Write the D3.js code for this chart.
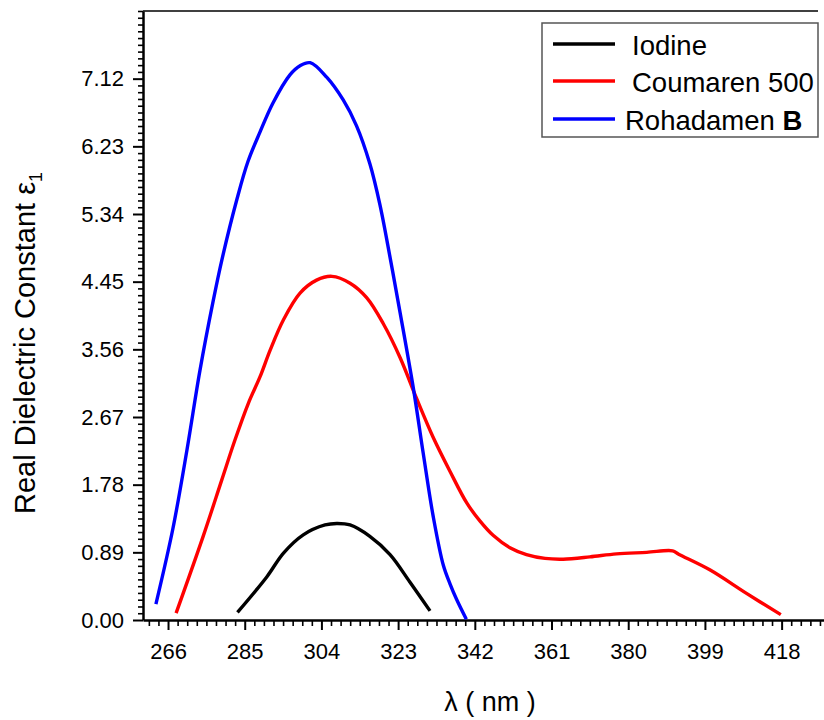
<!DOCTYPE html>
<html>
<head>
<meta charset="UTF-8">
<title>Real Dielectric Constant</title>
<style>
  body { margin: 0; background: #fff; }
  svg { display: block; font-family: "Liberation Sans", Arial, sans-serif; }
  .axis path, .axis line { stroke: #000; }
  .axis text { font-size: 22px; fill: #000; }
</style>
</head>
<body>
<svg width="824" height="720"></svg>
<script src="https://d3js.org/d3.v7.min.js"></script>
<script>
// tick labels
const xTicks = [266, 285, 304, 323, 342, 361, 380, 399, 418];
const yTicks = [0, 0.89, 1.78, 2.67, 3.56, 4.45, 5.34, 6.23, 7.12];

// series
const iodineX = [283.2, 290.5, 294.6, 299.5, 304.9, 307.8, 311.1, 316.0, 321.0, 325.9, 330.9];
const iodineY = [0.10, 0.57, 0.88, 1.12, 1.25, 1.27, 1.25, 1.10, 0.86, 0.50, 0.12];

const coumarenX = [268.0, 274.7, 279.3, 282.6, 285.9, 288.8, 291.3, 294.6, 298.7, 302.8, 306.6, 311.1, 315.2, 319.3, 323.5, 327.6, 331.7, 335.9, 340.0, 343.3, 346.6, 350.7, 354.8, 359.4, 363.9, 370.5, 377.1, 384.6, 391.0, 392.5, 400.2, 409.3, 417.8];
const coumarenY = [0.09, 1.10, 1.84, 2.37, 2.85, 3.20, 3.55, 3.95, 4.30, 4.47, 4.52, 4.43, 4.24, 3.90, 3.45, 2.91, 2.40, 1.95, 1.54, 1.30, 1.11, 0.95, 0.86, 0.81, 0.80, 0.83, 0.87, 0.89, 0.91, 0.865, 0.66, 0.35, 0.07];

const rohadamenX = [263.0, 267.2, 270.7, 273.9, 277.2, 279.4, 283.1, 285.8, 288.8, 292.0, 296.2, 298.7, 301.2, 305.3, 309.4, 312.7, 316.0, 318.5, 321.0, 323.5, 326.8, 329.2, 331.7, 334.2, 335.9, 337.5, 339.9];
const rohadamenY = [0.21, 1.20, 2.24, 3.28, 4.20, 4.75, 5.54, 6.03, 6.42, 6.80, 7.17, 7.29, 7.33, 7.14, 6.84, 6.50, 6.00, 5.46, 4.77, 4.04, 3.04, 2.20, 1.36, 0.72, 0.47, 0.27, 0.01];

const seriesNames = ["Iodine", "Coumaren 500", "Rohadamen"];
const seriesColors = ["#000000", "#ff0000", "#0000ff"];

const svg = d3.select("svg");

const x = d3.scaleLinear().domain([259.8, 428.5]).range([143, 824]);
const y = d3.scaleLinear().domain([0, 8.01]).range([620, 11]);

// minor ticks
const xMinor = d3.range(261.25, 428.5, 19 / 8).filter(v => !xTicks.some(t => Math.abs(t - v) < 0.01));
const yMinor = d3.range(0, 8.02, 0.089).filter(v => !yTicks.some(t => Math.abs(t - v) < 0.001));

// top frame line
svg.append("line")
  .attr("x1", 143).attr("x2", 818)
  .attr("y1", y(8.01)).attr("y2", y(8.01))
  .attr("stroke", "#000").attr("stroke-width", 1.5);

// minor ticks
svg.append("g").attr("class", "axis")
  .attr("transform", "translate(0,620)")
  .call(d3.axisBottom(x).tickValues(xMinor).tickSize(6).tickSizeOuter(0).tickFormat(""))
  .call(g => g.select(".domain").remove())
  .call(g => g.selectAll("line").attr("stroke-width", 1.6));

svg.append("g").attr("class", "axis")
  .attr("transform", "translate(143,0)")
  .call(d3.axisLeft(y).tickValues(yMinor).tickSize(5).tickSizeOuter(0).tickFormat(""))
  .call(g => g.select(".domain").remove())
  .call(g => g.selectAll("line").attr("stroke-width", 1.6));

// main axes
svg.append("g").attr("class", "axis")
  .attr("transform", "translate(0,620)")
  .call(d3.axisBottom(x).tickValues(xTicks).tickSize(10).tickSizeOuter(0).tickPadding(13).tickFormat(d3.format("d")))
  .call(g => g.select(".domain").attr("stroke-width", 2.5))
  .call(g => g.selectAll(".tick line").attr("stroke-width", 2));

svg.append("g").attr("class", "axis")
  .attr("transform", "translate(143,0)")
  .call(d3.axisLeft(y).tickValues(yTicks).tickSize(10).tickSizeOuter(0).tickPadding(9).tickFormat(d3.format(".2f")))
  .call(g => g.select(".domain").attr("stroke-width", 2.5))
  .call(g => g.selectAll(".tick line").attr("stroke-width", 2));

// curves
const line = d3.line()
  .x(d => x(d[0]))
  .y(d => y(d[1]))
  .curve(d3.curveCatmullRom.alpha(0.5));

const series = [
  d3.zip(iodineX, iodineY),
  d3.zip(coumarenX, coumarenY),
  d3.zip(rohadamenX, rohadamenY)
];

svg.append("g").selectAll("path")
  .data(series)
  .join("path")
  .attr("d", line)
  .attr("fill", "none")
  .attr("stroke", (d, i) => seriesColors[i])
  .attr("stroke-width", 3.4)
  .attr("stroke-linejoin", "round");

// axis titles
svg.append("text")
  .attr("x", 490).attr("y", 711)
  .attr("text-anchor", "middle")
  .attr("font-size", 27)
  .text("λ ( nm )");

const yTitle = svg.append("text")
  .attr("transform", "translate(35,514) rotate(-90)")
  .attr("font-size", 29);
yTitle.append("tspan").text("Real Dielectric Constant ε");
yTitle.append("tspan").attr("font-size", 18).attr("dy", 7).text("1");

// legend
const legend = svg.append("g");
legend.append("rect")
  .attr("x", 542).attr("y", 23)
  .attr("width", 276).attr("height", 114)
  .attr("fill", "#fff")
  .attr("stroke", "#555").attr("stroke-width", 1.5);

const legendY = [44, 81, 119];
const legendTextX = [632, 632, 625];
legend.selectAll(".lg-line")
  .data(seriesNames)
  .join("line")
  .attr("x1", 553).attr("x2", 615)
  .attr("y1", (d, i) => legendY[i]).attr("y2", (d, i) => legendY[i])
  .attr("stroke", (d, i) => seriesColors[i])
  .attr("stroke-width", 3.4);

legend.selectAll(".lg-text")
  .data(seriesNames)
  .join("text")
  .attr("x", (d, i) => legendTextX[i])
  .attr("y", (d, i) => legendY[i] + 10.5)
  .attr("font-size", 27.5)
  .each(function (d, i) {
    const t = d3.select(this);
    t.append("tspan").text(d);
    if (i === 2) t.append("tspan").attr("font-weight", "bold").text(" B");
  });
</script>
</body>
</html>
